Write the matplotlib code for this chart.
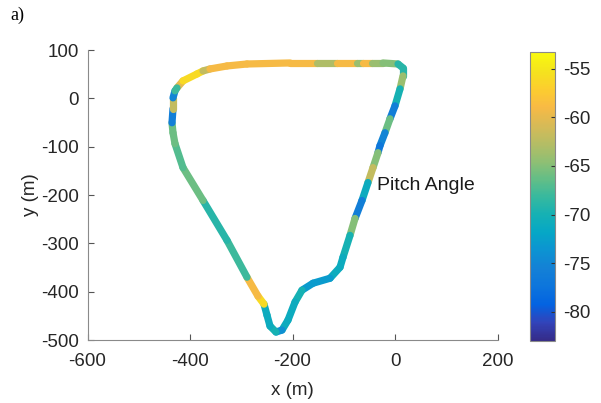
import numpy as np
import matplotlib
matplotlib.use("Agg")
import matplotlib.pyplot as plt
from matplotlib.collections import LineCollection
from matplotlib.colors import LinearSegmentedColormap, Normalize

plt.rcParams['font.family'] = ['Liberation Sans', 'DejaVu Sans']
plt.rcParams['axes.unicode_minus'] = False

# track waypoints (m), clockwise from the top-left corner
x_m = [-425.4, -413.7, -386.3, -374.6, -361.0, -327.8, -288.8, -204.9, -152.2, -113.2,
       -74.1, -62.4, -44.9, -23.4, 5.9, 15.6, 15.6, 9.8, 0.0, -9.8,
       -19.5, -29.3, -33.2, -42.9, -52.7, -64.4, -78.0, -87.8, -101.5, -107.3,
       -126.8, -160.0, -181.5, -195.1, -208.8, -220.5, -232.2, -243.9, -249.8, -255.6,
       -267.3, -288.8, -327.8, -374.6, -413.7, -429.3, -433.2, -435.1, -433.2, -433.2,
       -429.3]
y_m = [21.6, 36.1, 50.5, 56.7, 60.8, 67.0, 71.1, 73.2, 73.2, 73.2,
       73.2, 73.2, 73.2, 73.2, 71.1, 62.9, 46.4, 19.6, -15.5, -42.3,
       -71.1, -97.9, -112.4, -143.3, -174.2, -211.3, -248.5, -283.5, -328.9, -349.5,
       -372.2, -382.5, -396.9, -421.6, -458.8, -479.4, -483.5, -471.1, -448.5, -425.8,
       -409.3, -370.1, -293.8, -211.3, -143.3, -93.8, -71.1, -50.5, -21.6, 1.0,
       15.5]
pitch = [-60, -56, -56, -62, -59, -59, -59, -59, -63, -59,
         -64, -59, -64, -65, -69, -69, -64, -70, -76, -66,
         -75, -77, -65, -62, -71, -76, -65, -70, -71, -71,
         -73, -73, -70, -71, -71, -74, -70, -71, -71, -56,
         -59, -68, -69, -66, -67, -66, -66, -76, -62, -75,
         -68]

cbar_ticks = [-80, -75, -70, -65, -60, -55]

# MATLAB parula (every 4th row of the 64-entry table)
parula = LinearSegmentedColormap.from_list("parula", [
    (0.2081, 0.1663, 0.5292), (0.1959, 0.2645, 0.7279), (0.0117, 0.3875, 0.8820),
    (0.0498, 0.4586, 0.8641), (0.0779, 0.5040, 0.8384), (0.0488, 0.5772, 0.8228),
    (0.0228, 0.6535, 0.7768), (0.0843, 0.6928, 0.7062), (0.2178, 0.7250, 0.6193),
    (0.3953, 0.7459, 0.5244), (0.5709, 0.7485, 0.4494), (0.7184, 0.7411, 0.3905),
    (0.8507, 0.7299, 0.3360), (0.9739, 0.7314, 0.2666), (0.9880, 0.8066, 0.1794),
    (0.9589, 0.8949, 0.1132), (0.9763, 0.9831, 0.0538)])
norm = Normalize(vmin=-83.0, vmax=-53.3)

fig = plt.figure(figsize=(6.01, 4.03), dpi=100)
ax = fig.add_axes([0.1456, 0.1563, 0.6822, 0.7196])

pts = np.column_stack([x_m, y_m])
pts = np.vstack([pts, pts[:1]])
segs = np.stack([pts[:-1], pts[1:]], axis=1)
lc = LineCollection(segs, cmap=parula, norm=norm, linewidths=5.2,
                    capstyle='round', joinstyle='round')
lc.set_array(np.array(pitch, dtype=float))
ax.add_collection(lc)

ax.set_xlim(-600, 200)
ax.set_ylim(-500, 100)
ax.set_xticks([-600, -400, -200, 0, 200])
ax.set_yticks([-500, -400, -300, -200, -100, 0, 100])
for s in ['top', 'right']:
    ax.spines[s].set_visible(False)
for s in ['left', 'bottom']:
    ax.spines[s].set_color('#8a8a8a')
ax.tick_params(direction='in', length=4, color='#555555', labelsize=13.5,
               labelcolor='#262626')
ax.tick_params(axis='x', pad=9)
ax.tick_params(axis='y', pad=6)
ax.set_xlabel('x (m)', fontsize=13.5, color='#262626', labelpad=9)
ax.set_ylabel('y (m)', fontsize=13.5, color='#262626', labelpad=2)

ax.text(-35, -180, 'Pitch Angle', fontsize=14, color='#1a1a1a', va='center')

cax = fig.add_axes([0.8819, 0.1538, 0.0416, 0.717])
cb = fig.colorbar(lc, cax=cax, ticks=cbar_ticks)
cb.outline.set_edgecolor('#8a8a8a')
cax.tick_params(direction='in', length=3, color='#333333', labelsize=13.5,
                labelcolor='#262626', pad=6)

fig.text(10 / 601, 1 - 15 / 403, 'a)', fontsize=13, family=['Liberation Serif'],
         va='center', ha='left')

fig.savefig('out.png', dpi=100)
